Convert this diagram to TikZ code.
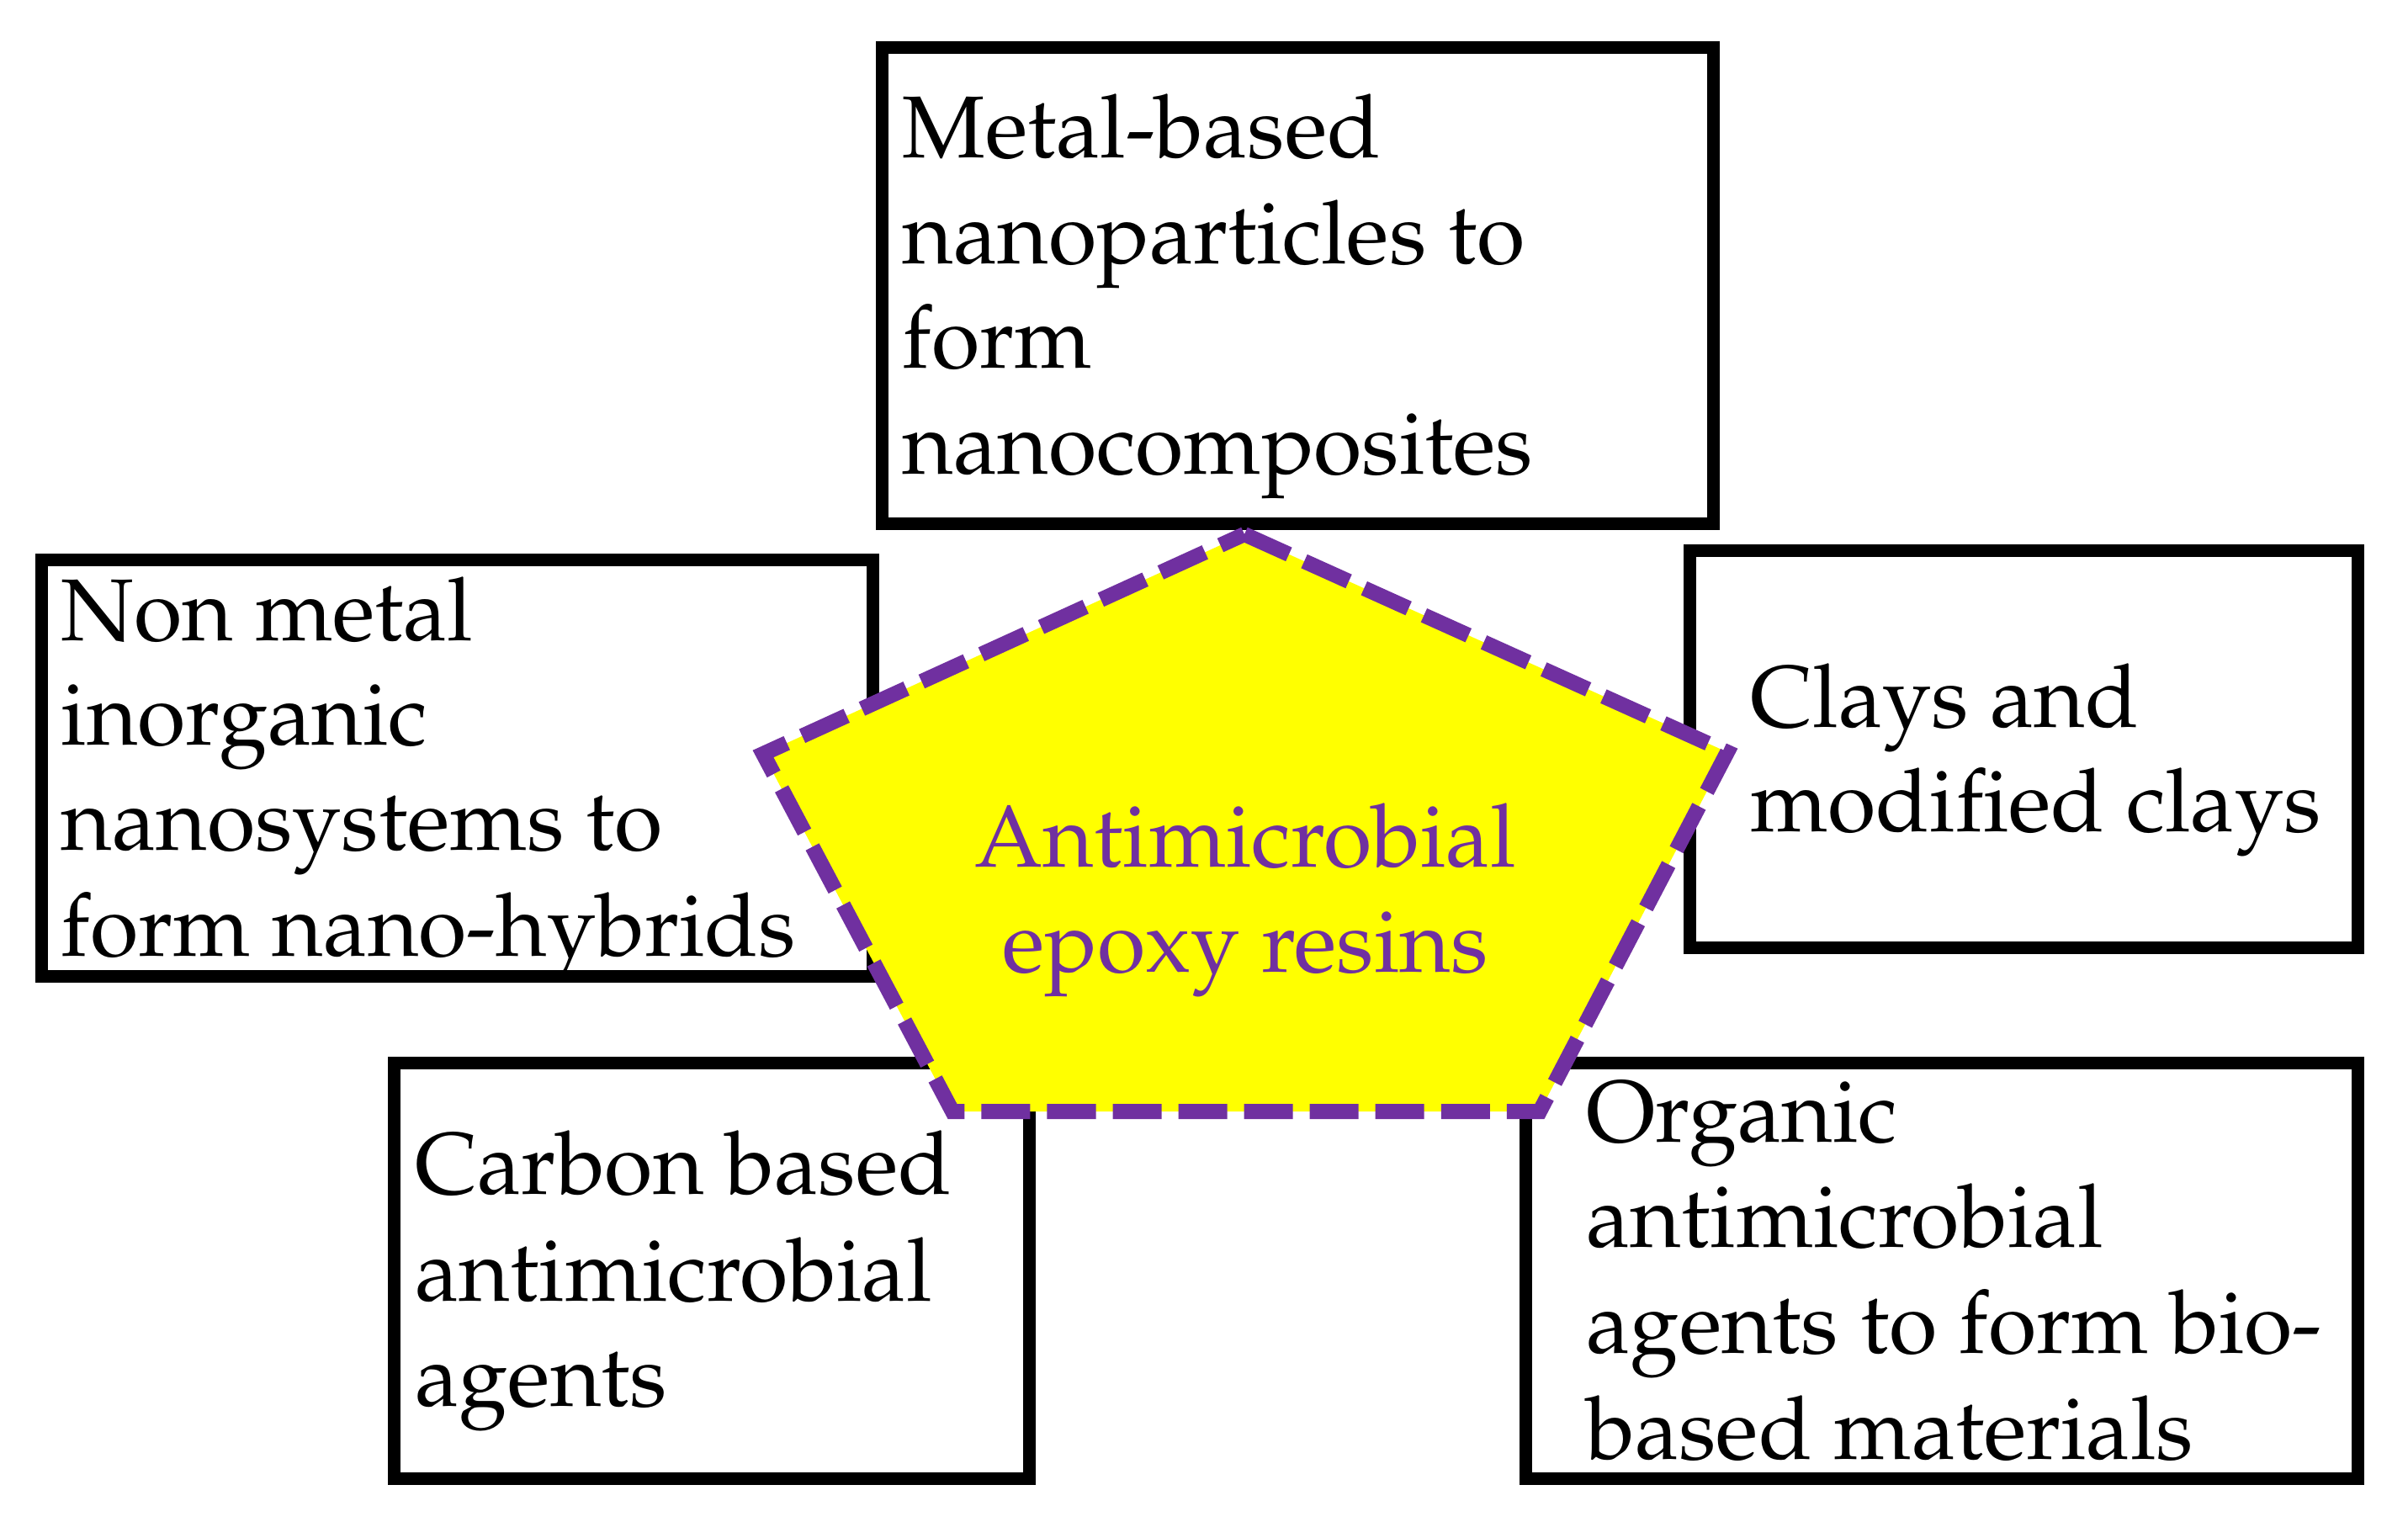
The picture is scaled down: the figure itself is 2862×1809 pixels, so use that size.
\documentclass[tikz,border=0pt]{standalone}
\usepackage[T1]{fontenc}
\renewcommand{\rmdefault}{ppl}
\definecolor{pentpurple}{HTML}{7030A0}
\definecolor{pentyellow}{HTML}{FFFF00}
\begin{document}
\begin{tikzpicture}[x=0.01cm,y=-0.01cm,
  box/.style={draw=black, line width=0.15cm, rectangle, inner sep=0pt, outer sep=0pt},
  txt/.style={anchor=base west, inner sep=0pt, font=\fontsize{29.7}{35.5}\selectfont},
  ctxt/.style={anchor=base, inner sep=0pt, text=pentpurple, font=\fontsize{29.7}{35.5}\selectfont},
  pent/.style={draw=pentpurple, fill=pentyellow, line width=0.18cm, dash pattern=on 0.58cm off 0.2cm, line join=miter}]
\useasboundingbox (0,0) rectangle (2862,1809);
% boxes
\node[box, minimum width=9.88cm, minimum height=5.65cm] (metal) at (1542.5,339.5) {};
\node[box, minimum width=9.88cm, minimum height=4.94cm] (nonmetal) at (543.5,913) {};
\node[box, minimum width=7.935cm, minimum height=4.72cm] (clays) at (2405.25,890.5) {};
\node[box, minimum width=7.55cm, minimum height=4.942cm] (carbon) at (846,1510.6) {};
\node[box, minimum width=9.885cm, minimum height=4.942cm] (organic) at (2307.75,1510.6) {};
% texts
\node[txt] (m1) at (1072,187) {Metal-based};
\node[txt] (m2) at (1072,313) {nanoparticles to};
\node[txt] (m3) at (1072,437) {form};
\node[txt] (m4) at (1072,563) {nanocomposites};
\node[txt] (n1) at (72,761) {Non metal};
\node[txt] (n2) at (72,885) {inorganic};
\node[txt] (n3) at (72,1010) {nanosystems to};
\node[txt] (n4) at (72,1136) {form nano-hybrids};
\node[txt] (c1) at (2080,864) {Clays and};
\node[txt] (c2) at (2080,988) {modified clays};
\node[txt] (b1) at (493,1419) {Carbon based};
\node[txt] (b2) at (493,1546) {antimicrobial};
\node[txt] (b3) at (493,1671) {agents};
\node[txt] (o1) at (1885,1357) {Organic};
\node[txt] (o2) at (1885,1482) {antimicrobial};
\node[txt] (o3) at (1885,1608) {agents to form bio-};
\node[txt] (o4) at (1885,1734) {based materials};
% pentagon
\coordinate (pt) at (1479,635);
\coordinate (pr) at (2053,894);
\coordinate (pbr) at (1830,1321);
\coordinate (pbl) at (1132,1321);
\coordinate (pl) at (907,896);
\draw[pent] (pt) -- (pr) -- (pbr) -- (pbl) -- (pl) -- cycle;
\node[ctxt] (e1) at (1480,1030) {Antimicrobial};
\node[ctxt] (e2) at (1480,1155) {epoxy resins};
\end{tikzpicture}
\end{document}
